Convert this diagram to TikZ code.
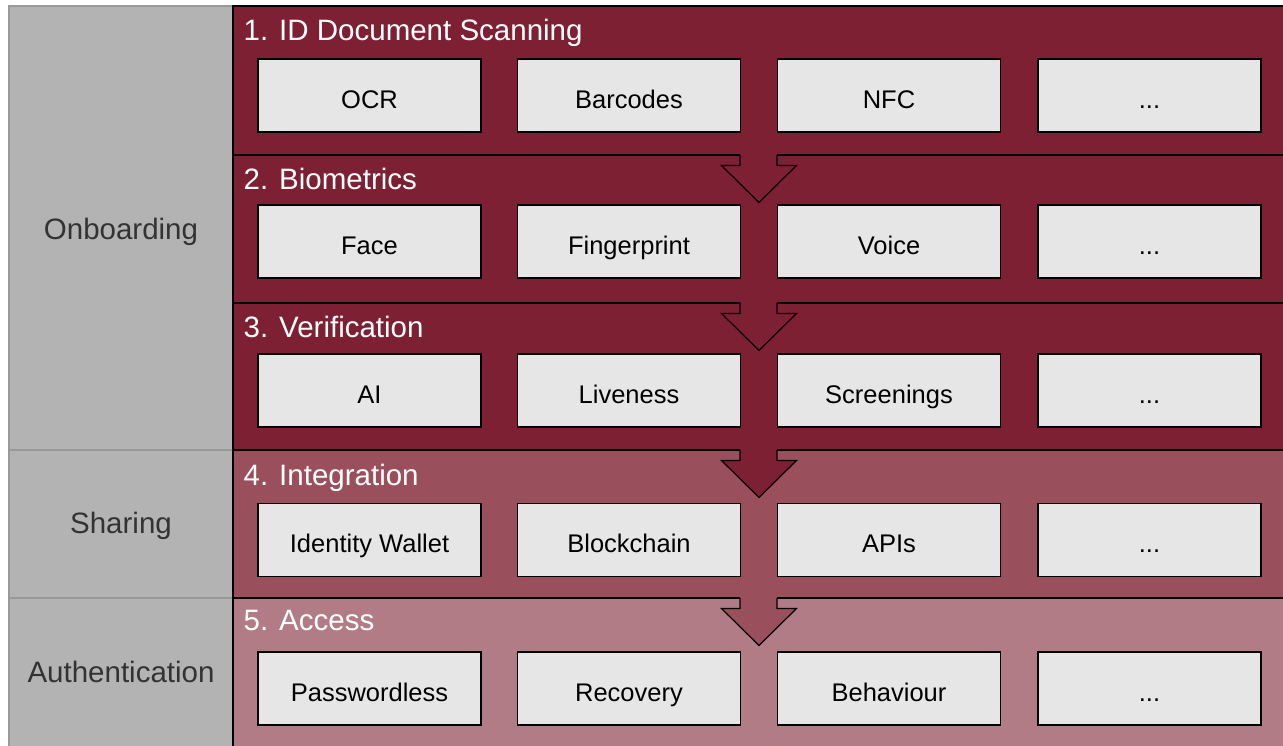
\documentclass[tikz,border=0pt]{standalone}
\usepackage{fontspec}
\setmainfont{Liberation Sans}
\definecolor{bandA}{HTML}{7E2033}
\definecolor{bandB}{HTML}{9A505C}
\definecolor{bandC}{HTML}{B27C86}
\definecolor{cellgray}{HTML}{B3B3B3}
\definecolor{cellline}{HTML}{999999}
\definecolor{labelgray}{HTML}{333333}
\definecolor{boxfill}{HTML}{E6E6E6}
\tikzset{
  phase/.style={fill=cellgray, draw=cellline, line width=1.5pt},
  phaselabel/.style={text=labelgray, font=\fontsize{29.5}{32}\selectfont, inner sep=0pt, anchor=base},
  band/.style={draw=black, line width=1.2pt},
  bandtitle/.style={text=white, font=\fontsize{29.5}{32}\selectfont, anchor=base west, inner sep=0pt},
  item/.style={draw=black, fill=boxfill, line width=1.5pt, minimum width=223pt, minimum height=73pt,
    inner sep=0pt, text height=25pt, text depth=0pt, font=\fontsize{25.5}{28}\selectfont},
  flow/.style={draw=black, line width=1.2pt, line join=miter}
}
\newcommand\flowarrowat[2]{%
  \fill[#2] (740,#1-1.5) -- (740,#1+10.5) -- (721.5,#1+10.5) -- (759,#1+47.5) -- (796.5,#1+10.5) -- (777,#1+10.5) -- (777,#1-1.5) -- cycle;
  \draw[flow] (740,#1) -- (740,#1+10.5) -- (721.5,#1+10.5) -- (759,#1+47.5) -- (796.5,#1+10.5) -- (777,#1+10.5) -- (777,#1);
}
\begin{document}
\begin{tikzpicture}[x=1pt,y=-1pt]
\useasboundingbox (0,0) rectangle (1283,745);
\fill[white] (0,0) rectangle (1283,745);
\clip (0,0) rectangle (1283,745);
% left phase column
\draw[phase] (9,6) rectangle (233,450);
\draw[phase] (9,450) rectangle (233,598);
\draw[phase] (9,598) rectangle (233,760);
\node[phaselabel] (onb) at (121,239.5) {Onboarding};
\node[phaselabel] (sha) at (121,533) {Sharing};
\node[phaselabel] (aut) at (121,682) {Authentication};
% bands
\draw[band, fill=bandA] (233,6) rectangle (1295,155);
\draw[band, fill=bandA] (233,155) rectangle (1295,303);
\draw[band, fill=bandA] (233,303) rectangle (1295,450);
\draw[band, fill=bandB] (233,450) rectangle (1295,598);
\draw[band, fill=bandC] (233,598) rectangle (1295,760);
% arrows
\flowarrowat{155}{bandA}
\flowarrowat{303}{bandA}
\flowarrowat{450}{bandA}
\flowarrowat{598}{bandB}
% titles
\node[bandtitle] (t1) at (243.5,40) {1. ID Document Scanning};
\node[bandtitle] (t2) at (243.5,189) {2. Biometrics};
\node[bandtitle] (t3) at (243.5,337) {3. Verification};
\node[bandtitle] (t4) at (243.5,485.5) {4. Integration};
\node[bandtitle] (t5) at (243.5,630) {5. Access};
% items
\node[item] (r1a) at (369.5,95.5) {OCR};
\node[item] (r1b) at (629,95.5) {Barcodes};
\node[item] (r1c) at (889,95.5) {NFC};
\node[item] (r1d) at (1149.5,95.5) {...};
\node[item] (r2a) at (369.5,241.5) {Face};
\node[item] (r2b) at (629,241.5) {Fingerprint};
\node[item] (r2c) at (889,241.5) {Voice};
\node[item] (r2d) at (1149.5,241.5) {...};
\node[item] (r3a) at (369.5,390.5) {AI};
\node[item] (r3b) at (629,390.5) {Liveness};
\node[item] (r3c) at (889,390.5) {Screenings};
\node[item] (r3d) at (1149.5,390.5) {...};
\node[item] (r4a) at (369.5,540) {Identity Wallet};
\node[item] (r4b) at (629,540) {Blockchain};
\node[item] (r4c) at (889,540) {APIs};
\node[item] (r4d) at (1149.5,540) {...};
\node[item] (r5a) at (369.5,688.5) {Passwordless};
\node[item] (r5b) at (629,688.5) {Recovery};
\node[item] (r5c) at (889,688.5) {Behaviour};
\node[item] (r5d) at (1149.5,688.5) {...};
\end{tikzpicture}
\end{document}
